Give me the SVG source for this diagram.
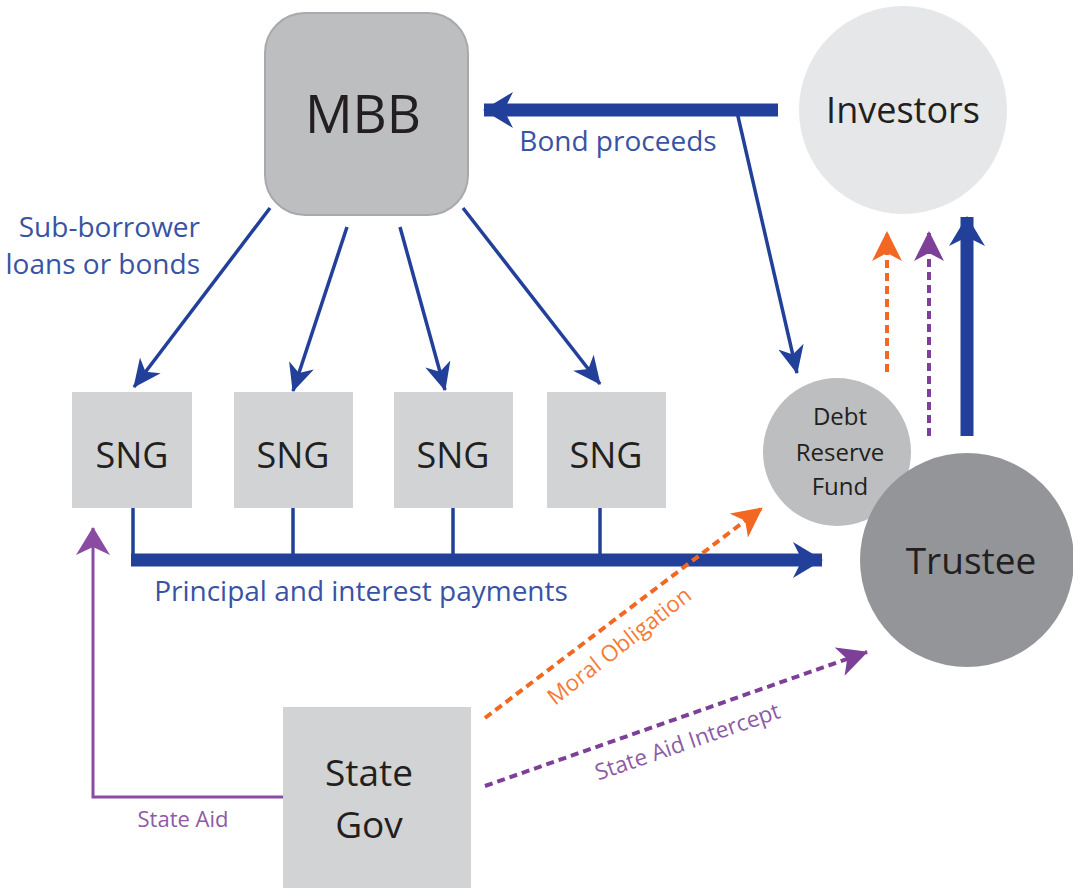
<svg xmlns="http://www.w3.org/2000/svg" width="1073" height="888" viewBox="0 0 1073 888">
  <defs>
    <style>
      text { font-family: "Open Sans", "Liberation Sans", sans-serif; }
      .node-text { fill: #231f20; text-anchor: middle; }
      .blue-label { fill: #3953a4; font-size: 28px; }
      .thin-blue { stroke: #22409a; stroke-width: 3.5; fill: none; }
      .thick-blue { stroke: #22409a; stroke-width: 13; fill: none; }
      .orange-dash { stroke: #f26722; stroke-width: 4; fill: none; stroke-dasharray: 8 5; }
      .purple-dash { stroke: #7e3f98; stroke-width: 4; fill: none; stroke-dasharray: 8 5; }
      .purple-line { stroke: #8a4ca3; stroke-width: 3; fill: none; }
      .sng { fill: #d1d3d4; }
    </style>
    <marker id="ah-thin" markerUnits="userSpaceOnUse" markerWidth="28" markerHeight="26" viewBox="0 0 28 26" refX="27" refY="13" orient="auto">
      <path d="M0,0 L28,13 L0,26 L8,13 z" fill="#22409a"/>
    </marker>
    <marker id="ah-thick" markerUnits="userSpaceOnUse" markerWidth="30" markerHeight="36" viewBox="0 0 30 36" refX="29" refY="18" orient="auto">
      <path d="M0,0 L30,18 L0,36 L9,18 z" fill="#22409a"/>
    </marker>
    <marker id="ah-orange" markerUnits="userSpaceOnUse" markerWidth="30" markerHeight="30" viewBox="0 0 30 30" refX="29" refY="15" orient="auto">
      <path d="M0,0 L30,15 L0,30 L8,15 z" fill="#f26722"/>
    </marker>
    <marker id="ah-purple" markerUnits="userSpaceOnUse" markerWidth="30" markerHeight="30" viewBox="0 0 30 30" refX="29" refY="15" orient="auto">
      <path d="M0,0 L30,15 L0,30 L8,15 z" fill="#7e3f98"/>
    </marker>
    <marker id="ah-purple-thin" markerUnits="userSpaceOnUse" markerWidth="28" markerHeight="34" viewBox="0 0 28 34" refX="27" refY="17" orient="auto">
      <path d="M0,0 L28,17 L0,34 L8,17 z" fill="#8a4ca3"/>
    </marker>
  </defs>

  <rect width="1073" height="888" fill="#ffffff"/>

  <!-- Nodes -->
  <g id="mbb">
    <rect x="265" y="13" width="203" height="202" rx="40" ry="40" fill="#bcbec0" stroke="#a7a9ac" stroke-width="2"/>
    <text class="node-text" x="363" y="133" font-size="53">MBB</text>
  </g>
  <g id="investors">
    <circle cx="903" cy="110" r="104" fill="#e6e7e8"/>
    <text class="node-text" x="903" y="123" font-size="36">Investors</text>
  </g>
  <g id="sng1">
    <rect class="sng" x="72" y="392" width="120" height="116"/>
    <text class="node-text" x="132" y="468" font-size="36">SNG</text>
  </g>
  <g id="sng2">
    <rect class="sng" x="234" y="392" width="119" height="116"/>
    <text class="node-text" x="293" y="468" font-size="36">SNG</text>
  </g>
  <g id="sng3">
    <rect class="sng" x="394" y="392" width="119" height="116"/>
    <text class="node-text" x="453" y="468" font-size="36">SNG</text>
  </g>
  <g id="sng4">
    <rect class="sng" x="547" y="392" width="119" height="116"/>
    <text class="node-text" x="606" y="468" font-size="36">SNG</text>
  </g>
  <g id="debt-reserve-fund">
    <circle cx="837" cy="452" r="74" fill="#bcbec0"/>
    <text class="node-text" x="840" y="425" font-size="24">Debt</text>
    <text class="node-text" x="840" y="461" font-size="24">Reserve</text>
    <text class="node-text" x="840" y="495" font-size="24">Fund</text>
  </g>
  <g id="trustee">
    <circle cx="967" cy="560" r="107" fill="#939598"/>
    <text class="node-text" x="971" y="574" font-size="37">Trustee</text>
  </g>
  <g id="state-gov">
    <rect x="283" y="707" width="188" height="185" fill="#d1d3d4"/>
    <text class="node-text" x="369" y="786" font-size="37">State</text>
    <text class="node-text" x="369" y="838" font-size="37">Gov</text>
  </g>

  <!-- Connectors -->
  <g id="connectors">
    <!-- Bond proceeds -->
    <line class="thick-blue" x1="778" y1="110" x2="484" y2="110" marker-end="url(#ah-thick)"/>
    <line class="thin-blue" x1="737" y1="112" x2="797" y2="373" marker-end="url(#ah-thin)"/>
    <!-- Sub-borrower loans -->
    <line class="thin-blue" x1="270" y1="208" x2="134" y2="387" marker-end="url(#ah-thin)"/>
    <line class="thin-blue" x1="347" y1="227" x2="293" y2="391" marker-end="url(#ah-thin)"/>
    <line class="thin-blue" x1="400" y1="227" x2="445" y2="390" marker-end="url(#ah-thin)"/>
    <line class="thin-blue" x1="463" y1="208" x2="600" y2="384" marker-end="url(#ah-thin)"/>
    <!-- Principal and interest payments -->
    <line class="thin-blue" x1="133" y1="508" x2="133" y2="560"/>
    <line class="thin-blue" x1="293" y1="508" x2="293" y2="560"/>
    <line class="thin-blue" x1="453" y1="508" x2="453" y2="560"/>
    <line class="thin-blue" x1="600" y1="508" x2="600" y2="560"/>
    <line class="thick-blue" x1="131" y1="560" x2="822" y2="560" marker-end="url(#ah-thick)"/>
    <!-- Trustee to investors -->
    <line class="thick-blue" x1="967" y1="436" x2="967" y2="217" stroke-width="14" marker-end="url(#ah-thick)"/>
    <line class="orange-dash" x1="887" y1="372" x2="887" y2="232" marker-end="url(#ah-orange)"/>
    <line class="purple-dash" x1="929" y1="436" x2="929" y2="232" marker-end="url(#ah-purple)"/>
    <!-- Moral obligation -->
    <line class="orange-dash" x1="485" y1="718" x2="762" y2="508" marker-end="url(#ah-orange)"/>
    <!-- State aid intercept -->
    <line class="purple-dash" x1="485" y1="786" x2="867" y2="652" marker-end="url(#ah-purple)"/>
    <!-- State aid -->
    <polyline class="purple-line" points="283,797 93,797 93,528" marker-end="url(#ah-purple-thin)"/>
  </g>

  <!-- Labels -->
  <g id="labels">
    <text class="blue-label" x="618" y="151" text-anchor="middle">Bond proceeds</text>
    <text class="blue-label" x="200" y="237" text-anchor="end">Sub-borrower</text>
    <text class="blue-label" x="200" y="274" text-anchor="end">loans or bonds</text>
    <text class="blue-label" x="361" y="601" text-anchor="middle">Principal and interest payments</text>
    <text x="624" y="652" font-size="22.5" fill="#f47b36" text-anchor="middle" transform="rotate(-38 624 652)">Moral Obligation</text>
    <text x="690" y="749" font-size="22.5" fill="#8d5ba6" text-anchor="middle" transform="rotate(-19 690 749)">State Aid Intercept</text>
    <text x="183" y="827" font-size="22" fill="#8d5ba6" text-anchor="middle">State Aid</text>
  </g>
</svg>
